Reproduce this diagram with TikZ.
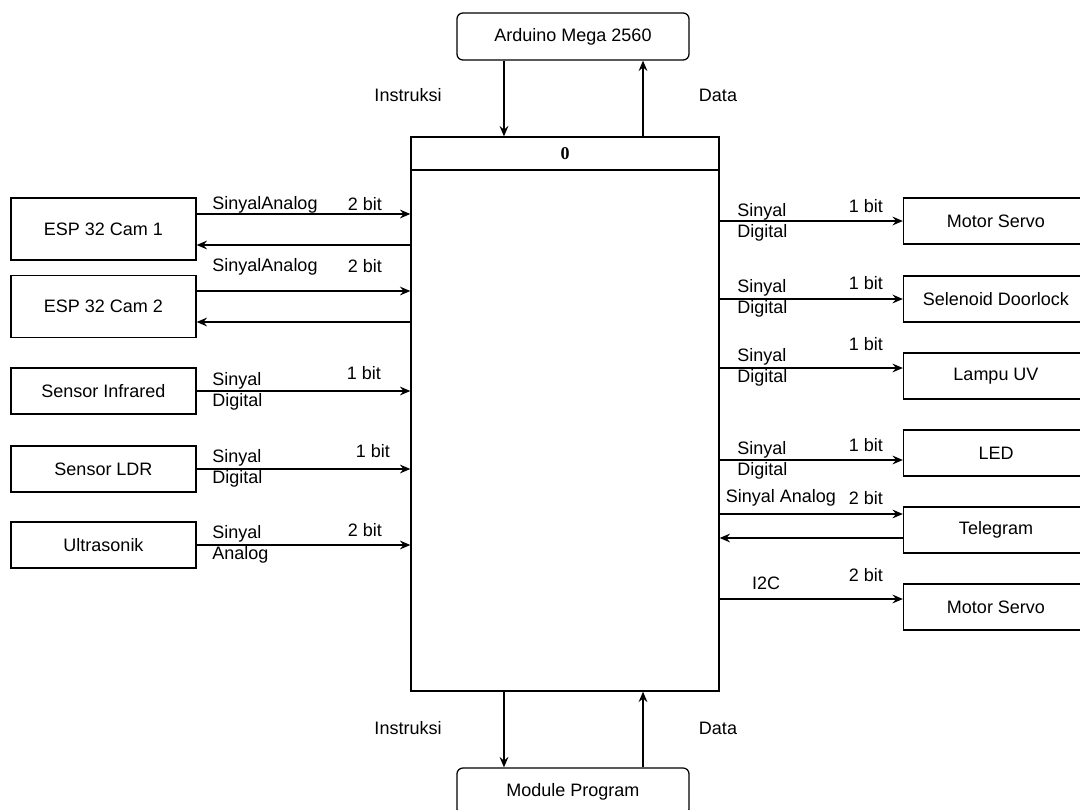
\documentclass[tikz,border=0pt]{standalone}
\usepackage{fontspec}
\setmainfont{Liberation Sans}
\newfontfamily\zerofont{Liberation Serif}
\usetikzlibrary{positioning, arrows.meta}

\tikzset{
  sig/.style={-{Stealth[length=2.6mm, width=2.2mm, inset=0.9mm]}, line width=0.9pt},
  kotak/.style={draw, line width=0.9pt, minimum width=4.625cm, minimum height=1.15cm, inner sep=0},
  kamera/.style={kotak, minimum height=1.55cm},
  pusat/.style={kotak, rounded corners=0.15cm, minimum width=5.8cm, minimum height=1.175cm},
  lbl/.style={inner sep=0},
  lbl2/.style={inner sep=0, align=left, anchor=west}
}

\begin{document}
\begin{tikzpicture}[x=0.025cm, y=-0.025cm, font=\fontsize{12.8}{15}\selectfont]
  \clip (0,0) rectangle (1080,810);

  % Blok utama
  \node[kotak, minimum width=7.7cm, minimum height=0.825cm] (hdr) at (565,153.5) {\zerofont\bfseries 0};
  \node[kotak, minimum width=7.7cm, minimum height=13.025cm] (body) at (565,430.5) {};

  % Mikrokontroler dan program
  \node[pusat] (ard) at (573,36.5) {Arduino Mega 2560};
  \node[pusat] (mod) at (573,791.5) {Module Program};

  \draw[sig] ([xshift=-1.725cm]ard.south) -- ([xshift=-1.725cm]ard.south |- hdr.north);
  \draw[sig] ([xshift=1.75cm]ard.south |- hdr.north) -- ([xshift=1.75cm]ard.south);
  \node[lbl] (insA) at (408,95) {Instruksi};
  \node[lbl] (datA) at (718,95) {Data};

  \draw[sig] ([xshift=-1.725cm]mod.north |- body.south) -- ([xshift=-1.725cm]mod.north);
  \draw[sig] ([xshift=1.75cm]mod.north) -- ([xshift=1.75cm]mod.north |- body.south);
  \node[lbl] (insB) at (408,728) {Instruksi};
  \node[lbl] (datB) at (718,728) {Data};

  % Masukan (kiri)
  \node[kamera] (cam1) at (103.5,229) {ESP 32 Cam 1};
  \node[kamera] (cam2) at (103.5,306.5) {ESP 32 Cam 2};
  \node[kotak] (ir) at (103.5,391) {Sensor Infrared};
  \node[kotak] (ldr) at (103.5,469) {Sensor LDR};
  \node[kotak] (us) at (103.5,545) {Ultrasonik};

  \draw[sig] ([yshift=0.375cm]cam1.east) -- ([yshift=0.375cm]cam1.east -| body.west);
  \draw[sig] ([yshift=-0.4cm]cam1.east -| body.west) -- ([yshift=-0.4cm]cam1.east);
  \draw[sig] ([yshift=0.387cm]cam2.east) -- ([yshift=0.387cm]cam2.east -| body.west);
  \draw[sig] ([yshift=-0.387cm]cam2.east -| body.west) -- ([yshift=-0.387cm]cam2.east);
  \draw[sig] (ir.east) -- (ir.east -| body.west);
  \draw[sig] (ldr.east) -- (ldr.east -| body.west);
  \draw[sig] (us.east) -- (us.east -| body.west);

  \node[lbl] (sa1) at (265,205) {SinyalAnalog};
  \node[lbl] (b1) at (365,204) {2 bit};
  \node[lbl] (sa2) at (265,267) {SinyalAnalog};
  \node[lbl] (b2) at (365,266) {2 bit};
  \node[lbl2] (sd1) at (212,391.5) {Sinyal\\Digital};
  \node[lbl] (b3) at (364,373) {1 bit};
  \node[lbl2] (sd2) at (212,468) {Sinyal\\Digital};
  \node[lbl] (b4) at (373,451) {1 bit};
  \node[lbl2] (sa3) at (212,544.5) {Sinyal\\Analog};
  \node[lbl] (b5) at (365,530) {2 bit};

  % Keluaran (kanan)
  \node[kotak] (srv1) at (996,221) {Motor Servo};
  \node[kotak] (dl) at (996,299) {Selenoid Doorlock};
  \node[kotak] (uv) at (996,376) {Lampu UV};
  \node[kotak] (led) at (996,453) {LED};
  \node[kotak] (tg) at (996,530) {Telegram};
  \node[kotak] (srv2) at (996,607) {Motor Servo};

  \draw[sig] (srv1.west -| body.east) -- (srv1.west);
  \draw[sig] (dl.west -| body.east) -- (dl.west);
  \draw[sig] ([yshift=0.2cm]uv.west -| body.east) -- ([yshift=0.2cm]uv.west);
  \draw[sig] ([yshift=-0.175cm]led.west -| body.east) -- ([yshift=-0.175cm]led.west);
  \draw[sig] ([yshift=0.4cm]tg.west -| body.east) -- ([yshift=0.4cm]tg.west);
  \draw[sig] ([yshift=-0.2cm]tg.west) -- ([yshift=-0.2cm]tg.west -| body.east);
  \draw[sig] ([yshift=0.2cm]srv2.west -| body.east) -- ([yshift=0.2cm]srv2.west);

  \node[lbl2] (sd3) at (737,222) {Sinyal\\Digital};
  \node[lbl] (b6) at (866,206) {1 bit};
  \node[lbl2] (sd4) at (737,298) {Sinyal\\Digital};
  \node[lbl] (b7) at (866,283) {1 bit};
  \node[lbl2] (sd5) at (737,367) {Sinyal\\Digital};
  \node[lbl] (b8) at (866,344) {1 bit};
  \node[lbl2] (sd6) at (737,460.5) {Sinyal\\Digital};
  \node[lbl] (b9) at (866,445) {1 bit};
  \node[lbl] (sa4) at (781,498) {Sinyal Analog};
  \node[lbl] (b10) at (866,498) {2 bit};
  \node[lbl] (i2c) at (766,583) {I2C};
  \node[lbl] (b11) at (866,575) {2 bit};
\end{tikzpicture}
\end{document}
